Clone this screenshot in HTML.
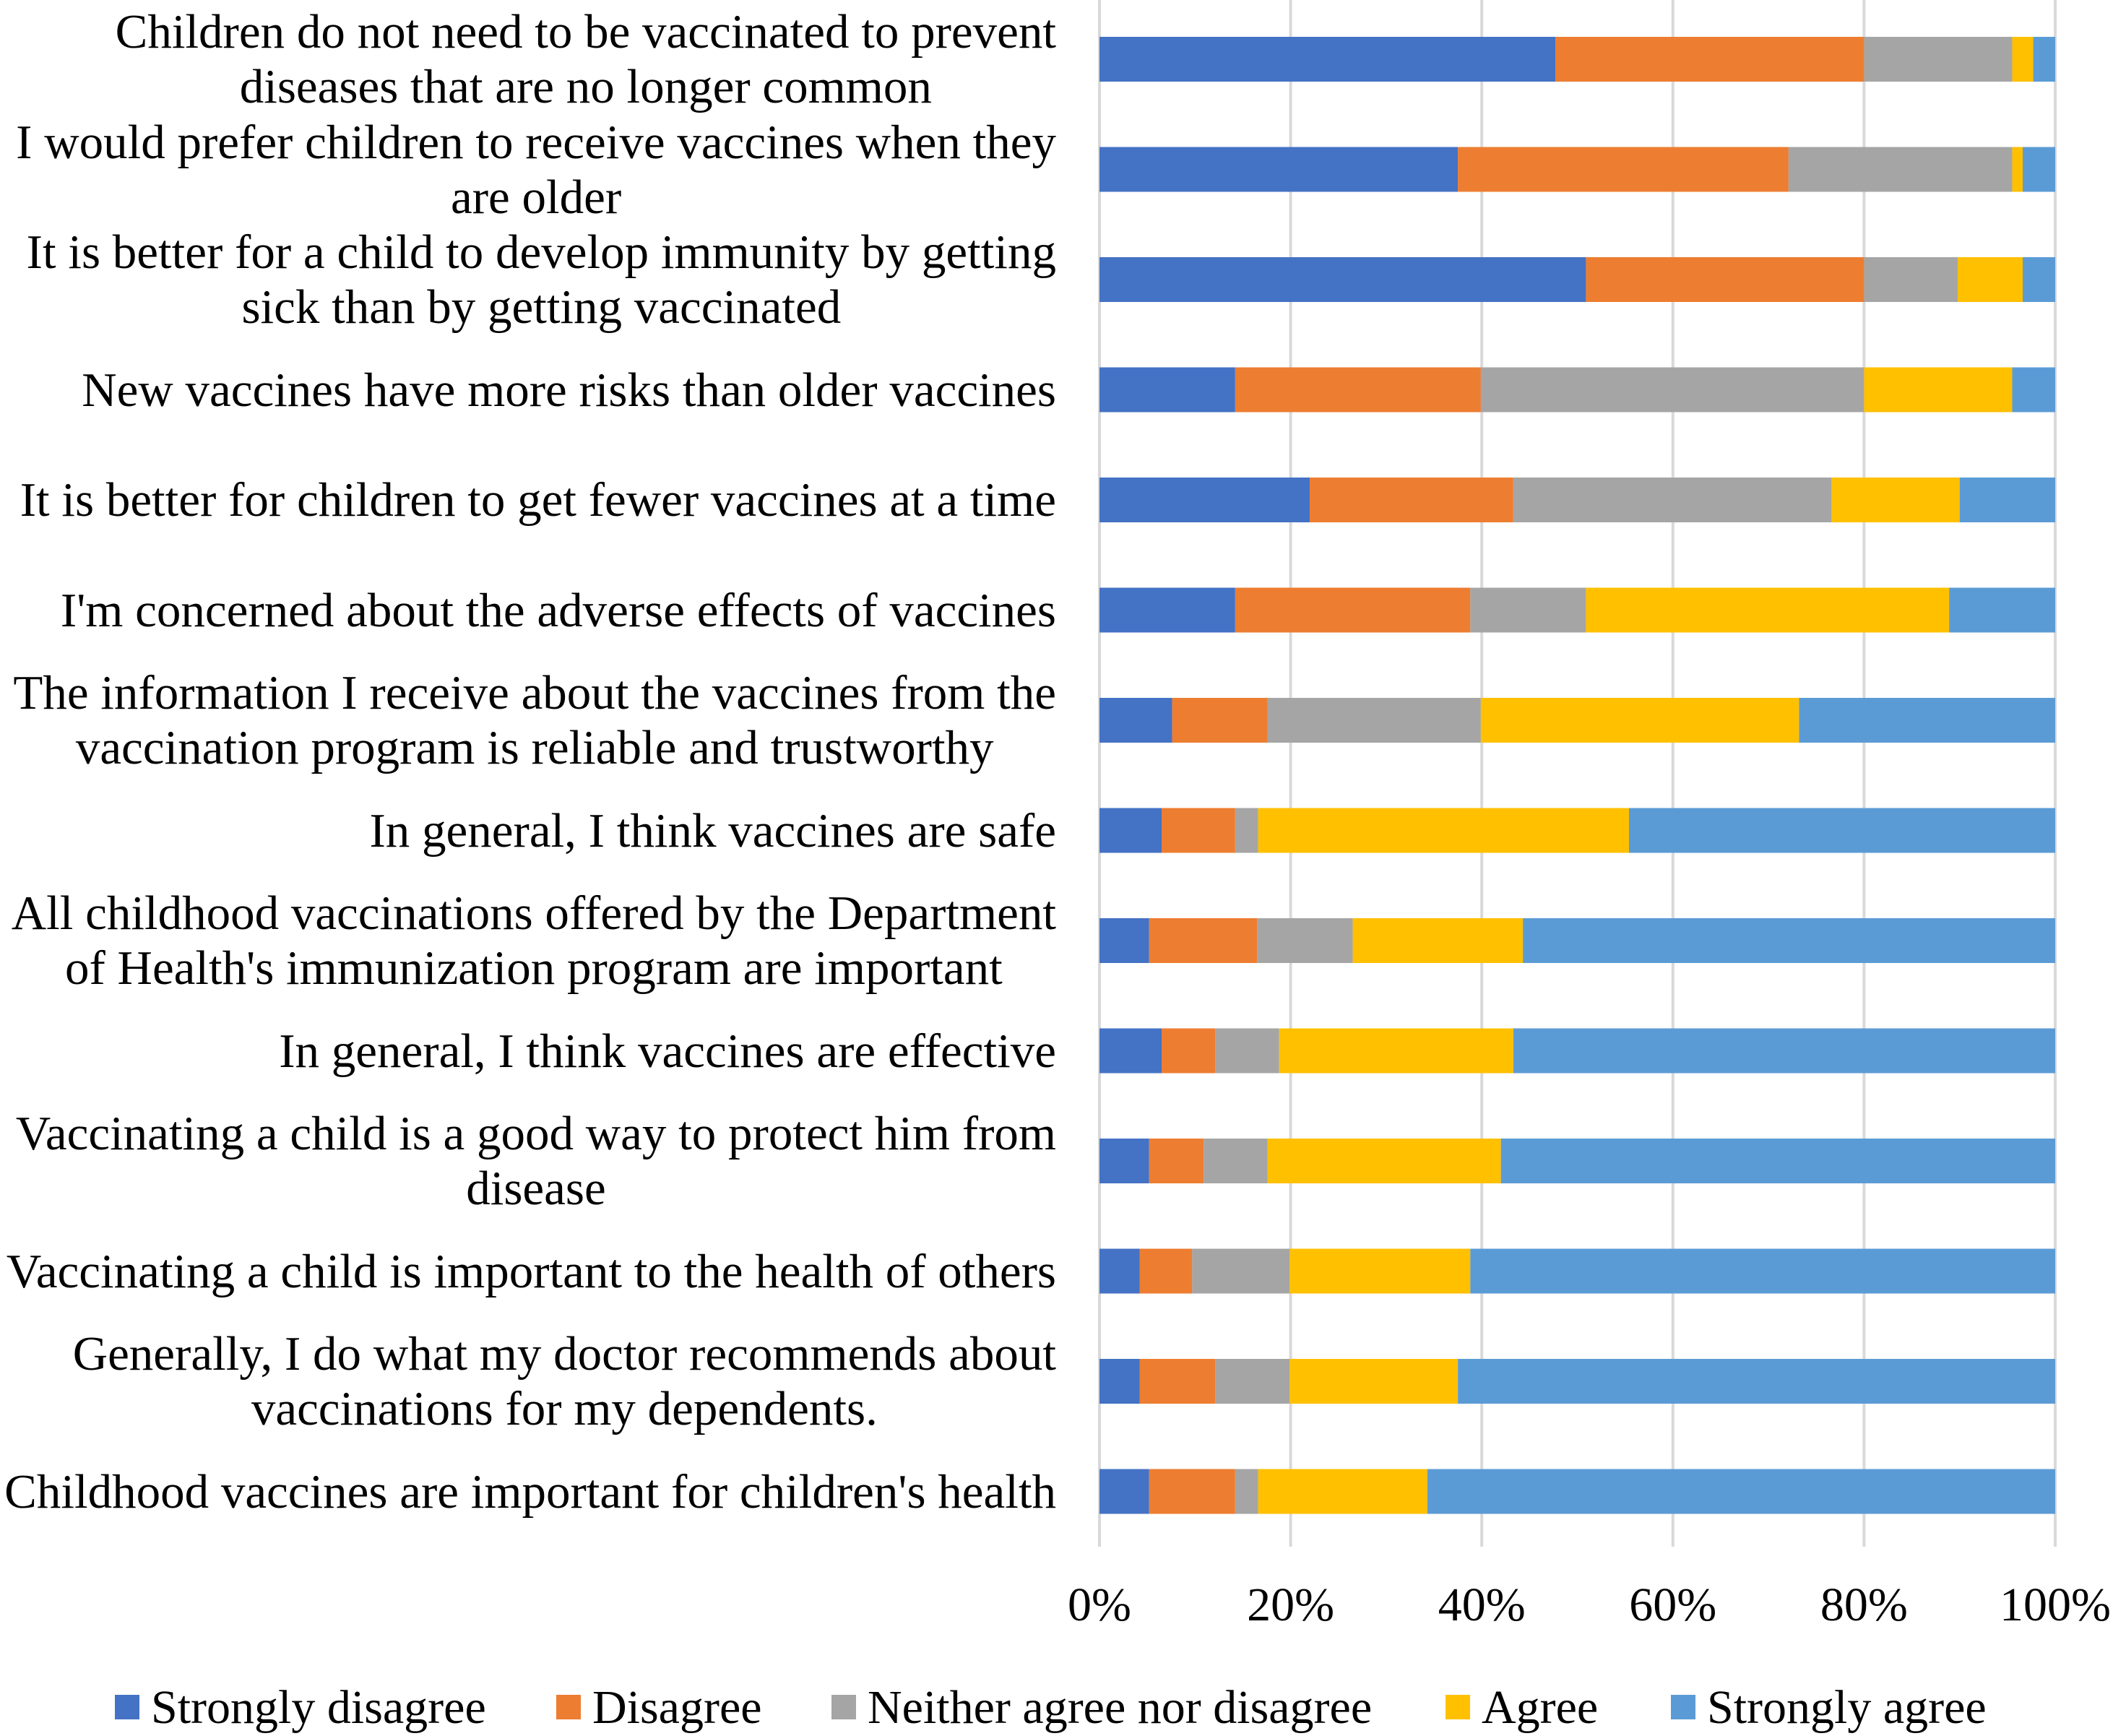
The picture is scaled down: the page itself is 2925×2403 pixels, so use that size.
<!DOCTYPE html>
<html><head><meta charset="utf-8"><style>
body{margin:0;background:#fff;}
#c{position:relative;width:2925px;height:2403px;overflow:hidden;font-family:"Liberation Serif",serif;color:#000;}
.lbl{position:absolute;right:1463px;text-align:center;white-space:nowrap;font-size:67px;line-height:76px;}
</style></head><body>
<div id="c">
<svg id="svg" width="2925" height="2403" style="position:absolute;left:0;top:0"></svg>
</div>
<script>
const categories=["Children do not need to be vaccinated to prevent<br>diseases that are no longer common","I would prefer children to receive vaccines when they<br>are older","It is better for a child to develop immunity by getting<br>sick than by getting vaccinated","New vaccines have more risks than older vaccines","It is better for children to get fewer vaccines at a time","I'm concerned about the adverse effects of vaccines","The information I receive about the vaccines from the<br>vaccination program is reliable and trustworthy","In general, I think vaccines are safe","All childhood vaccinations offered by the Department<br>of Health's immunization program are important","In general, I think vaccines are effective","Vaccinating a child is a good way to protect him from<br>disease","Vaccinating a child is important to the health of others","Generally, I do what my doctor recommends about<br>vaccinations for my dependents.","Childhood vaccines are important for children's health"];
const seriesNames=["Strongly disagree","Disagree","Neither agree nor disagree","Agree","Strongly agree"];
const stronglyDisagree=[47.7,37.5,50.9,14.2,22,14.2,7.6,6.5,5.2,6.5,5.2,4.2,4.2,5.2];
const disagree=[32.3,34.6,29.1,25.7,21.3,24.6,10,7.7,11.3,5.6,5.7,5.5,7.9,9];
const neither=[15.5,23.4,9.8,40.1,33.3,12.1,22.3,2.4,10,6.7,6.7,10.2,7.8,2.4];
const agree=[2.2,1.1,6.8,15.5,13.4,38,33.3,38.8,17.8,24.5,24.4,18.9,17.6,17.7];
const stronglyAgree=[2.3,3.4,3.4,4.5,10,11.1,26.8,44.6,55.7,56.7,58,61.2,62.5,65.7];
const tickLabels=["0%","20%","40%","60%","80%","100%"];
const tickValues=[0,20,40,60,80,100];
const colors=["#4472C4","#ED7D31","#A5A5A5","#FFC000","#5B9BD5"];
const NS="http://www.w3.org/2000/svg";
const svg=document.getElementById('svg'),c=document.getElementById('c');
const x0=1522,x1=2845,yTop=82,step=152.5,bh=62;
const xs=v=>x0+(x1-x0)*v/100;
const yc=i=>yTop+i*step;
tickValues.forEach((t,k)=>{
 const l=document.createElementNS(NS,'line');
 l.setAttribute('x1',xs(t));l.setAttribute('x2',xs(t));l.setAttribute('y1',0);l.setAttribute('y2',2141);
 l.setAttribute('stroke','#d9d9d9');l.setAttribute('stroke-width',4);
 
 
 svg.appendChild(l);
 const tx=document.createElementNS(NS,'text');
 tx.setAttribute('x',xs(t));tx.setAttribute('y',2243);tx.setAttribute('text-anchor','middle');
 tx.setAttribute('font-size','66');tx.setAttribute('font-family','Liberation Serif, serif');
 tx.textContent=tickLabels[k];
 
 
 svg.appendChild(tx);
});
const series=[stronglyDisagree,disagree,neither,agree,stronglyAgree];
categories.forEach((cat,i)=>{
 let acc=0;
 series.forEach((s,j)=>{
  const r=document.createElementNS(NS,'rect');
  r.setAttribute('x',xs(acc));r.setAttribute('width',xs(acc+s[i])-xs(acc));
  r.setAttribute('y',yc(i)-bh/2);r.setAttribute('height',bh);r.setAttribute('fill',colors[j]);
  
  
  svg.appendChild(r);acc+=s[i];
 });
 const d=document.createElement('div');
 d.className='lbl';d.innerHTML=cat;
 const lines=cat.split('<br>').length;
 d.style.top=(yc(i)-lines*76/2)+'px';
 
 
 c.appendChild(d);
});
const legX=[159,770,1151,2001,2313];
seriesNames.forEach((n,j)=>{
 const r=document.createElementNS(NS,'rect');
 r.setAttribute('x',legX[j]);r.setAttribute('y',2346);r.setAttribute('width',34);r.setAttribute('height',34);r.setAttribute('fill',colors[j]);
 
 
 svg.appendChild(r);
 const t=document.createElementNS(NS,'text');
 t.setAttribute('x',legX[j]+50);t.setAttribute('y',2385);t.setAttribute('font-size','66');
 t.setAttribute('font-family','Liberation Serif, serif');t.textContent=n;
 
 
 svg.appendChild(t);
});
</script>
</body></html>
